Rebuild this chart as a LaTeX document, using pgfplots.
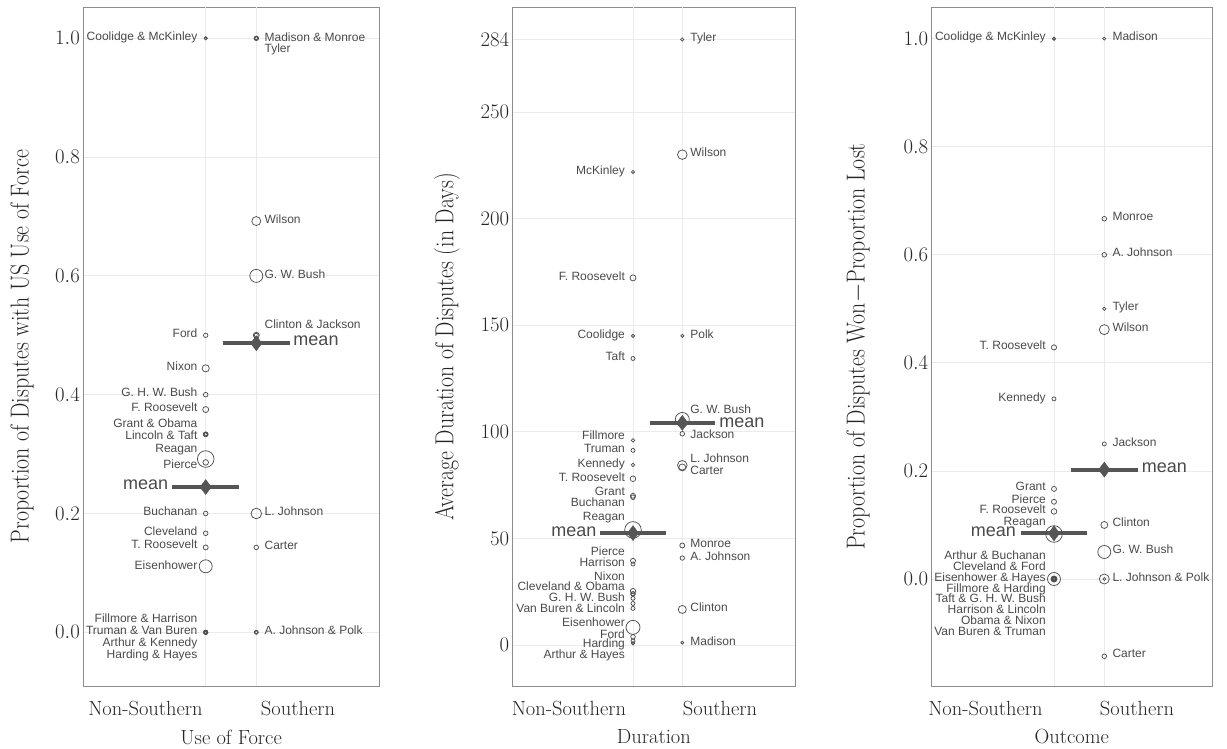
\documentclass[border=0pt]{standalone}
\usepackage{pgfplots}
\pgfplotsset{compat=1.18}
\usepackage{fontspec}
\newfontfamily\labfont{Liberation Sans}
\newfontfamily\ylabfont[FakeStretch=0.84]{Latin Modern Roman}
\definecolor{ptgray}{HTML}{505050}
\definecolor{meangray}{HTML}{555555}
\definecolor{gridgray}{HTML}{EBEBEB}
\definecolor{framegray}{HTML}{8C8C8C}
\definecolor{labgray}{HTML}{4A4A4A}
\pgfplotsset{
  panel/.style={
    scale only axis, height=678.7pt, anchor=south west,
    axis line style={framegray, line width=0.8pt},
    ymajorgrids, grid style={gridgray, line width=0.8pt},
    major tick length=0pt,
    tick label style={font=\fontsize{20.5}{20.5}\selectfont, text=black!85},
    xticklabel style={anchor=center, yshift=-23pt},
    label style={font=\fontsize{20.5}{20.5}\selectfont, text=black!85},
    ylabel style={font=\ylabfont\fontsize{26}{26}\selectfont},
    xlabel style={at={(axis description cs:0.5,0)}, anchor=center, yshift=-51pt},
    extra x ticks={1,2}, extra x tick labels={},
    extra x tick style={grid=major, major tick length=0pt},
    clip=false,
  },
  pts/.style={scatter, only marks, mark=o, line width=0.75pt,
    scatter/use mapped color={draw=ptgray, fill=none},
    visualization depends on={\thisrow{r} \as \perpointmarksize},
    scatter/@pre marker code/.append style={/tikz/mark size=\perpointmarksize}},
  meanline/.style={meangray, line width=4pt, no marks, forget plot},
  meanpt/.style={only marks, mark=diamond*, mark size=7.5pt, meangray, mark options={fill=meangray, draw=meangray}},
}
\tikzset{
  lw/.style={anchor=mid east, inner sep=0pt, font=\labfont\fontsize{12}{12}\selectfont, text=labgray},
  le/.style={anchor=mid west, inner sep=0pt, font=\labfont\fontsize{12}{12}\selectfont, text=labgray},
  mw/.style={anchor=mid east, inner sep=0pt, font=\labfont\fontsize{18}{18}\selectfont, text=labgray},
  me/.style={anchor=mid west, inner sep=0pt, font=\labfont\fontsize{18}{18}\selectfont, text=labgray},
}
\begin{document}
\begin{tikzpicture}
\path[use as bounding box] (0,0) rectangle (1227pt,749pt);
% ---------------- Panel 1: Use of Force ----------------
\begin{axis}[panel, at={(83.3pt,63pt)}, width=295.7pt,
  xmin=-1.419, xmax=4.425, ymin=-0.0904, ymax=1.0522,
  xtick={-0.19,2.824}, xticklabels={Non-Southern,Southern},
  ytick={0,0.2,0.4,0.6,0.8,1.0},
  yticklabel style={/pgf/number format/.cd, fixed, fixed zerofill, precision=1},
  xlabel={Use of Force}, ylabel={Proportion of Disputes with US Use of Force},
  ylabel style={at={(axis description cs:-0.207,0.5)}, anchor=center}]
\addplot[pts] table {
x y r
1 1.0 1.6
1 1.0 1.4
1 0.5 2.2
1 0.4444 3.6
1 0.4 2.3
1 0.375 3.0
1 0.3333 2.4
1 0.3333 2.0
1 0.3333 2.2
1 0.3333 1.8
1 0.2917 8.3
1 0.286 2.8
1 0.2 2.3
1 0.1667 2.3
1 0.1429 2.5
1 0.1111 6.5
1 0 2.0
1 0 1.8
1 0 1.6
1 0 2.2
1 0 1.5
1 0 1.9
1 0 1.7
1 0 2.0
2 1.0 2.2
2 1.0 1.8
2 1.0 2.0
2 0.6923 4.5
2 0.6 6.5
2 0.5 3.0
2 0.5 2.0
2 0.2 5.3
2 0.1429 2.3
2 0 2.0
2 0 1.7
};
\addplot[meanline] coordinates {(0.34,0.2445) (1.66,0.2445)};
\addplot[meanline] coordinates {(1.34,0.4865) (2.66,0.4865)};
\addplot[meanpt] coordinates {(1,0.2445) (2,0.4865)};
\node[lw] at (axis cs:0.84,1.0) {Coolidge \& McKinley};
\node[lw] at (axis cs:0.84,0.5) {Ford};
\node[lw] at (axis cs:0.84,0.444) {Nixon};
\node[lw] at (axis cs:0.84,0.4) {G. H. W. Bush};
\node[lw] at (axis cs:0.84,0.375) {F. Roosevelt};
\node[lw] at (axis cs:0.84,0.349) {Grant \& Obama};
\node[lw] at (axis cs:0.84,0.328) {Lincoln \& Taft};
\node[lw] at (axis cs:0.84,0.307) {Reagan};
\node[lw] at (axis cs:0.84,0.280) {Pierce};
\node[lw] at (axis cs:0.84,0.2) {Buchanan};
\node[lw] at (axis cs:0.84,0.1667) {Cleveland};
\node[lw] at (axis cs:0.84,0.144) {T. Roosevelt};
\node[lw] at (axis cs:0.84,0.110) {Eisenhower};
\node[lw] at (axis cs:0.84,0.0207) {Fillmore \& Harrison};
\node[lw] at (axis cs:0.84,0.0) {Truman \& Van Buren};
\node[lw] at (axis cs:0.84,-0.0195) {Arthur \& Kennedy};
\node[lw] at (axis cs:0.84,-0.0397) {Harding \& Hayes};
\node[le] at (axis cs:2.16,0.999) {Madison \& Monroe};
\node[le] at (axis cs:2.16,0.979) {Tyler};
\node[le] at (axis cs:2.16,0.692) {Wilson};
\node[le] at (axis cs:2.16,0.6) {G. W. Bush};
\node[le] at (axis cs:2.16,0.5145) {Clinton \& Jackson};
\node[le] at (axis cs:2.16,0.2) {L. Johnson};
\node[le] at (axis cs:2.16,0.143) {Carter};
\node[le] at (axis cs:2.16,0.0) {A. Johnson \& Polk};
\node[mw] at (axis cs:0.261,0.244) {mean};
\node[me] at (axis cs:2.731,0.4865) {mean};
\end{axis}
% ---------------- Panel 2: Duration ----------------
\begin{axis}[panel, at={(512.7pt,63pt)}, width=282.3pt,
  xmin=-1.44, xmax=4.286, ymin=-19.2, ymax=299.1,
  xtick={-0.298,2.765}, xticklabels={Non-Southern,Southern},
  ytick={0,50,100,150,200,250,284},
  xlabel={Duration}, ylabel={Average Duration of Disputes (in Days)},
  ylabel style={at={(axis description cs:-0.233,0.5)}, anchor=center}]
\addplot[pts] table {
x y r
1 221.9 1.6
1 172.2 3.0
1 145 1.6
1 134.4 2.0
1 96.0 1.8
1 91.3 2.0
1 84.5 1.8
1 78.0 2.8
1 70.0 2.5
1 69.3 2.3
1 54.0 8.3
1 39.5 2.5
1 38.0 2.0
1 25.3 2.7
1 24.0 2.3
1 24.0 2.0
1 21.9 2.0
1 19.5 2.0
1 17.2 2.0
1 8.3 7.0
1 3.9 2.3
1 1.9 2.0
1 0.8 1.6
1 0.8 1.5
2 284 1.6
2 230 4.8
2 145 1.6
2 105.8 7.0
2 99.1 2.3
2 84.3 4.8
2 83.3 3.5
2 46.7 2.5
2 40.8 2.2
2 16.7 4.0
2 1.1 1.5
};
\addplot[meanline] coordinates {(0.34,52.5) (1.66,52.5)};
\addplot[meanline] coordinates {(1.34,104.2) (2.66,104.2)};
\addplot[meanpt] coordinates {(1,52.5) (2,104.2)};
\node[lw] at (axis cs:0.84,221.9) {McKinley};
\node[lw] at (axis cs:0.84,172.2) {F. Roosevelt};
\node[lw] at (axis cs:0.84,145) {Coolidge};
\node[lw] at (axis cs:0.84,134.4) {Taft};
\node[lw] at (axis cs:0.84,97.6) {Fillmore};
\node[lw] at (axis cs:0.84,91.1) {Truman};
\node[lw] at (axis cs:0.84,84.4) {Kennedy};
\node[lw] at (axis cs:0.84,77.8) {T. Roosevelt};
\node[lw] at (axis cs:0.84,71.1) {Grant};
\node[lw] at (axis cs:0.84,66.1) {Buchanan};
\node[lw] at (axis cs:0.84,59.4) {Reagan};
\node[lw] at (axis cs:0.84,43.0) {Pierce};
\node[lw] at (axis cs:0.84,37.8) {Harrison};
\node[lw] at (axis cs:0.84,31.4) {Nixon};
\node[lw] at (axis cs:0.84,26.6) {Cleveland \& Obama};
\node[lw] at (axis cs:0.84,21.4) {G. H. W. Bush};
\node[lw] at (axis cs:0.84,16.4) {Van Buren \& Lincoln};
\node[lw] at (axis cs:0.84,9.7) {Eisenhower};
\node[lw] at (axis cs:0.84,4.2) {Ford};
\node[lw] at (axis cs:0.84,-0.3) {Harding};
\node[lw] at (axis cs:0.84,-5.2) {Arthur \& Hayes};
\node[le] at (axis cs:2.16,284) {Tyler};
\node[le] at (axis cs:2.16,230) {Wilson};
\node[le] at (axis cs:2.16,145) {Polk};
\node[le] at (axis cs:2.16,109.4) {G. W. Bush};
\node[le] at (axis cs:2.16,97.7) {Jackson};
\node[le] at (axis cs:2.16,86.4) {L. Johnson};
\node[le] at (axis cs:2.16,81.1) {Carter};
\node[le] at (axis cs:2.16,46.6) {Monroe};
\node[le] at (axis cs:2.16,40.6) {A. Johnson};
\node[le] at (axis cs:2.16,16.7) {Clinton};
\node[le] at (axis cs:2.16,0.8) {Madison};
\node[mw] at (axis cs:0.264,52.0) {mean};
\node[me] at (axis cs:2.75,103.1) {mean};
\end{axis}
% ---------------- Panel 3: Outcome ----------------
\begin{axis}[panel, at={(931.7pt,63pt)}, width=280.3pt,
  xmin=-1.431, xmax=4.141, ymin=-0.198, ymax=1.058,
  xtick={-0.362,2.65}, xticklabels={Non-Southern,Southern},
  ytick={0,0.2,0.4,0.6,0.8,1.0},
  yticklabel style={/pgf/number format/.cd, fixed, fixed zerofill, precision=1},
  xlabel={Outcome}, ylabel={Proportion of Disputes Won$-$Proportion Lost},
  ylabel style={at={(axis description cs:-0.263,0.5)}, anchor=center}]
\addplot[pts] table {
x y r
1 1.0 1.6
1 1.0 1.4
1 0.4286 2.6
1 0.3333 2.0
1 0.1667 2.5
1 0.1429 2.5
1 0.125 2.8
1 0.0833 8.3
1 0 6.5
1 0 3.0
1 0 2.7
1 0 2.5
1 0 2.3
1 0 2.3
1 0 2.2
1 0 2.2
1 0 2.0
1 0 2.0
1 0 2.0
1 0 2.0
1 0 1.8
1 0 1.8
1 0 1.7
1 0 1.6
2 1.0 1.5
2 0.6667 2.3
2 0.6 2.3
2 0.5 1.7
2 0.4615 5.0
2 0.25 2.0
2 0.1 3.5
2 0.05 6.5
2 0 5.0
2 0 1.5
2 -0.1429 2.3
};
\addplot[meanline] coordinates {(0.34,0.0845) (1.66,0.0845)};
\addplot[meanline] coordinates {(1.34,0.2025) (2.66,0.2025)};
\addplot[meanpt] coordinates {(1,0.0845) (2,0.2025)};
\node[lw] at (axis cs:0.84,1.0) {Coolidge \& McKinley};
\node[lw] at (axis cs:0.84,0.429) {T. Roosevelt};
\node[lw] at (axis cs:0.84,0.332) {Kennedy};
\node[lw] at (axis cs:0.84,0.1677) {Grant};
\node[lw] at (axis cs:0.84,0.143) {Pierce};
\node[lw] at (axis cs:0.84,0.126) {F. Roosevelt};
\node[lw] at (axis cs:0.84,0.103) {Reagan};
\node[lw] at (axis cs:0.84,0.0395) {Arthur \& Buchanan};
\node[lw] at (axis cs:0.84,0.0197) {Cleveland \& Ford};
\node[lw] at (axis cs:0.84,0.0) {Eisenhower \& Hayes};
\node[lw] at (axis cs:0.84,-0.0203) {Fillmore \& Harding};
\node[lw] at (axis cs:0.84,-0.040) {Taft \& G. H. W. Bush};
\node[lw] at (axis cs:0.84,-0.059) {Harrison \& Lincoln};
\node[lw] at (axis cs:0.84,-0.080) {Obama \& Nixon};
\node[lw] at (axis cs:0.84,-0.1005) {Van Buren \& Truman};
\node[le] at (axis cs:2.16,1.0) {Madison};
\node[le] at (axis cs:2.16,0.667) {Monroe};
\node[le] at (axis cs:2.16,0.6) {A. Johnson};
\node[le] at (axis cs:2.16,0.5) {Tyler};
\node[le] at (axis cs:2.16,0.462) {Wilson};
\node[le] at (axis cs:2.16,0.25) {Jackson};
\node[le] at (axis cs:2.16,0.101) {Clinton};
\node[le] at (axis cs:2.16,0.0505) {G. W. Bush};
\node[le] at (axis cs:2.16,0.0) {L. Johnson \& Polk};
\node[le] at (axis cs:2.16,-0.142) {Carter};
\node[mw] at (axis cs:0.245,0.083) {mean};
\node[me] at (axis cs:2.744,0.2016) {mean};
\end{axis}
\end{tikzpicture}
\end{document}
